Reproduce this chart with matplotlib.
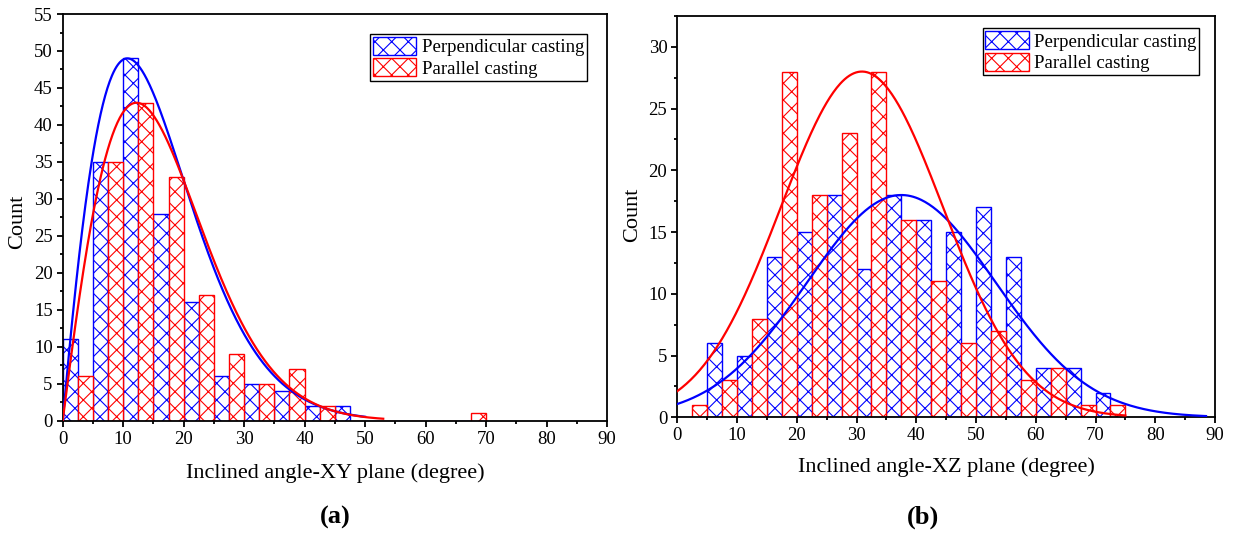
import numpy as np
import matplotlib
matplotlib.use("Agg")
import matplotlib.pyplot as plt
from matplotlib.patches import Patch
from matplotlib.ticker import MultipleLocator

plt.rcParams['font.family'] = ['Liberation Serif', 'DejaVu Serif']
plt.rcParams['hatch.linewidth'] = 0.8

# ---- data ----
bin_width = 5
xy_bin_left = [0, 5, 10, 15, 20, 25, 30, 35, 40, 45, 50, 55, 60, 65]
xy_perp = [11, 35, 49, 28, 16, 6, 5, 4, 2, 2, 0, 0, 0, 0]
xy_para = [6, 35, 43, 33, 17, 9, 5, 7, 2, 0, 0, 0, 0, 1]

xz_bin_left = [0, 5, 10, 15, 20, 25, 30, 35, 40, 45, 50, 55, 60, 65, 70]
xz_perp = [0, 6, 5, 13, 15, 18, 12, 18, 16, 15, 17, 13, 4, 4, 2]
xz_para = [1, 3, 8, 28, 18, 23, 28, 16, 11, 6, 7, 3, 4, 1, 1]

# fitted distribution curve parameters (mode, peak height, tail exponent, x-range end)
xy_perp_fit = dict(mode=10.7, peak=49.0, p=1.5, xmax=50.0)
xy_para_fit = dict(mode=12.2, peak=43.0, p=1.7, xmax=53.0)
# gaussian fits (mean, sigma, peak height, x-range end)
xz_perp_fit = dict(mu=37.5, sigma=15.8, peak=18.0, xmax=88.5)
xz_para_fit = dict(mu=30.9, sigma=13.6, peak=28.0, xmax=75.0)

labels = ["Perpendicular casting", "Parallel casting"]
xlabel_xy = "Inclined angle-XY plane (degree)"
xlabel_xz = "Inclined angle-XZ plane (degree)"
BLUE = "#0000ff"
RED = "#ff0000"

W, H = 1234, 533


def gen_gamma_curve(mode, peak, p, xmax):
    x = np.linspace(1e-6, xmax, 400)
    r = x / mode
    y = peak * r * np.exp(-(r ** p - 1.0) / p)
    return x, y


def gauss_curve(mu, sigma, peak, xmax):
    x = np.linspace(0, xmax, 400)
    y = peak * np.exp(-(x - mu) ** 2 / (2 * sigma ** 2))
    return x, y


fig = plt.figure(figsize=(W / 100, H / 100), dpi=100)
axL = fig.add_axes([0.0508, 0.2107, 0.4411, 0.763])
axR = fig.add_axes([0.5489, 0.2171, 0.4357, 0.7529])


def style_axes(ax, ymax, ymajor):
    ax.set_xlim(0, 90)
    ax.set_ylim(0, ymax)
    ax.xaxis.set_major_locator(MultipleLocator(10))
    ax.xaxis.set_minor_locator(MultipleLocator(5))
    ax.yaxis.set_major_locator(MultipleLocator(ymajor))
    ax.yaxis.set_minor_locator(MultipleLocator(ymajor / 2))
    ax.tick_params(which='both', direction='out', top=False, right=False,
                   labelsize=13.5, width=1.3, pad=3)
    ax.tick_params(which='major', length=4.2)
    ax.tick_params(which='minor', length=2.2)
    for s in ax.spines.values():
        s.set_linewidth(1.3)


def draw_hist(ax, lefts, perp, para):
    lefts = np.asarray(lefts, dtype=float)
    half = bin_width / 2
    ax.bar(lefts, perp, width=half, align='edge', facecolor='white',
           edgecolor=BLUE, hatch='xx', linewidth=1.0, zorder=2)
    ax.bar(lefts + half, para, width=half, align='edge', facecolor='white',
           edgecolor=RED, hatch='xx', linewidth=1.0, zorder=2)


def legend(ax, bbox):
    handles = [Patch(facecolor='white', edgecolor=BLUE, hatch='xx', linewidth=1.0),
               Patch(facecolor='white', edgecolor=RED, hatch='xx', linewidth=1.0)]
    leg = ax.legend(handles, labels, loc='upper right', bbox_to_anchor=bbox,
                    fontsize=13.5, frameon=True, fancybox=False, edgecolor='black',
                    framealpha=1, handlelength=2.3, handleheight=1.1,
                    handletextpad=0.3, borderpad=0.15, labelspacing=0.12,
                    borderaxespad=0)
    leg.get_frame().set_linewidth(1.0)


# ---- left: XY plane ----
draw_hist(axL, xy_bin_left, xy_perp, xy_para)
x, y = gen_gamma_curve(**xy_perp_fit)
axL.plot(x, y, color=BLUE, lw=1.6, zorder=3)
x, y = gen_gamma_curve(**xy_para_fit)
axL.plot(x, y, color=RED, lw=1.6, zorder=3)
style_axes(axL, 55, 5)
legend(axL, (0.963, 0.951))

# ---- right: XZ plane ----
draw_hist(axR, xz_bin_left, xz_perp, xz_para)
x, y = gauss_curve(**xz_perp_fit)
axR.plot(x, y, color=BLUE, lw=1.6, zorder=3)
x, y = gauss_curve(**xz_para_fit)
axR.plot(x, y, color=RED, lw=1.6, zorder=3)
style_axes(axR, 32.5, 5)
legend(axR, (0.971, 0.969))

# axis titles and panel labels
fig.text(335 / W, 1 - 473 / H, xlabel_xy, fontsize=16, ha='center', va='center')
fig.text(946 / W, 1 - 467 / H, xlabel_xz, fontsize=16, ha='center', va='center')
fig.text(18 / W, 1 - 222 / H, "Count", fontsize=16, rotation=90,
         ha='center', va='center')
fig.text(633 / W, 1 - 215 / H, "Count", fontsize=16, rotation=90,
         ha='center', va='center')
fig.text(335 / W, 1 - 517 / H, "(a)", fontsize=19, fontweight='bold',
         ha='center', va='center')
fig.text(923 / W, 1 - 517 / H, "(b)", fontsize=19, fontweight='bold',
         ha='center', va='center')

fig.savefig("out.png", dpi=100)
